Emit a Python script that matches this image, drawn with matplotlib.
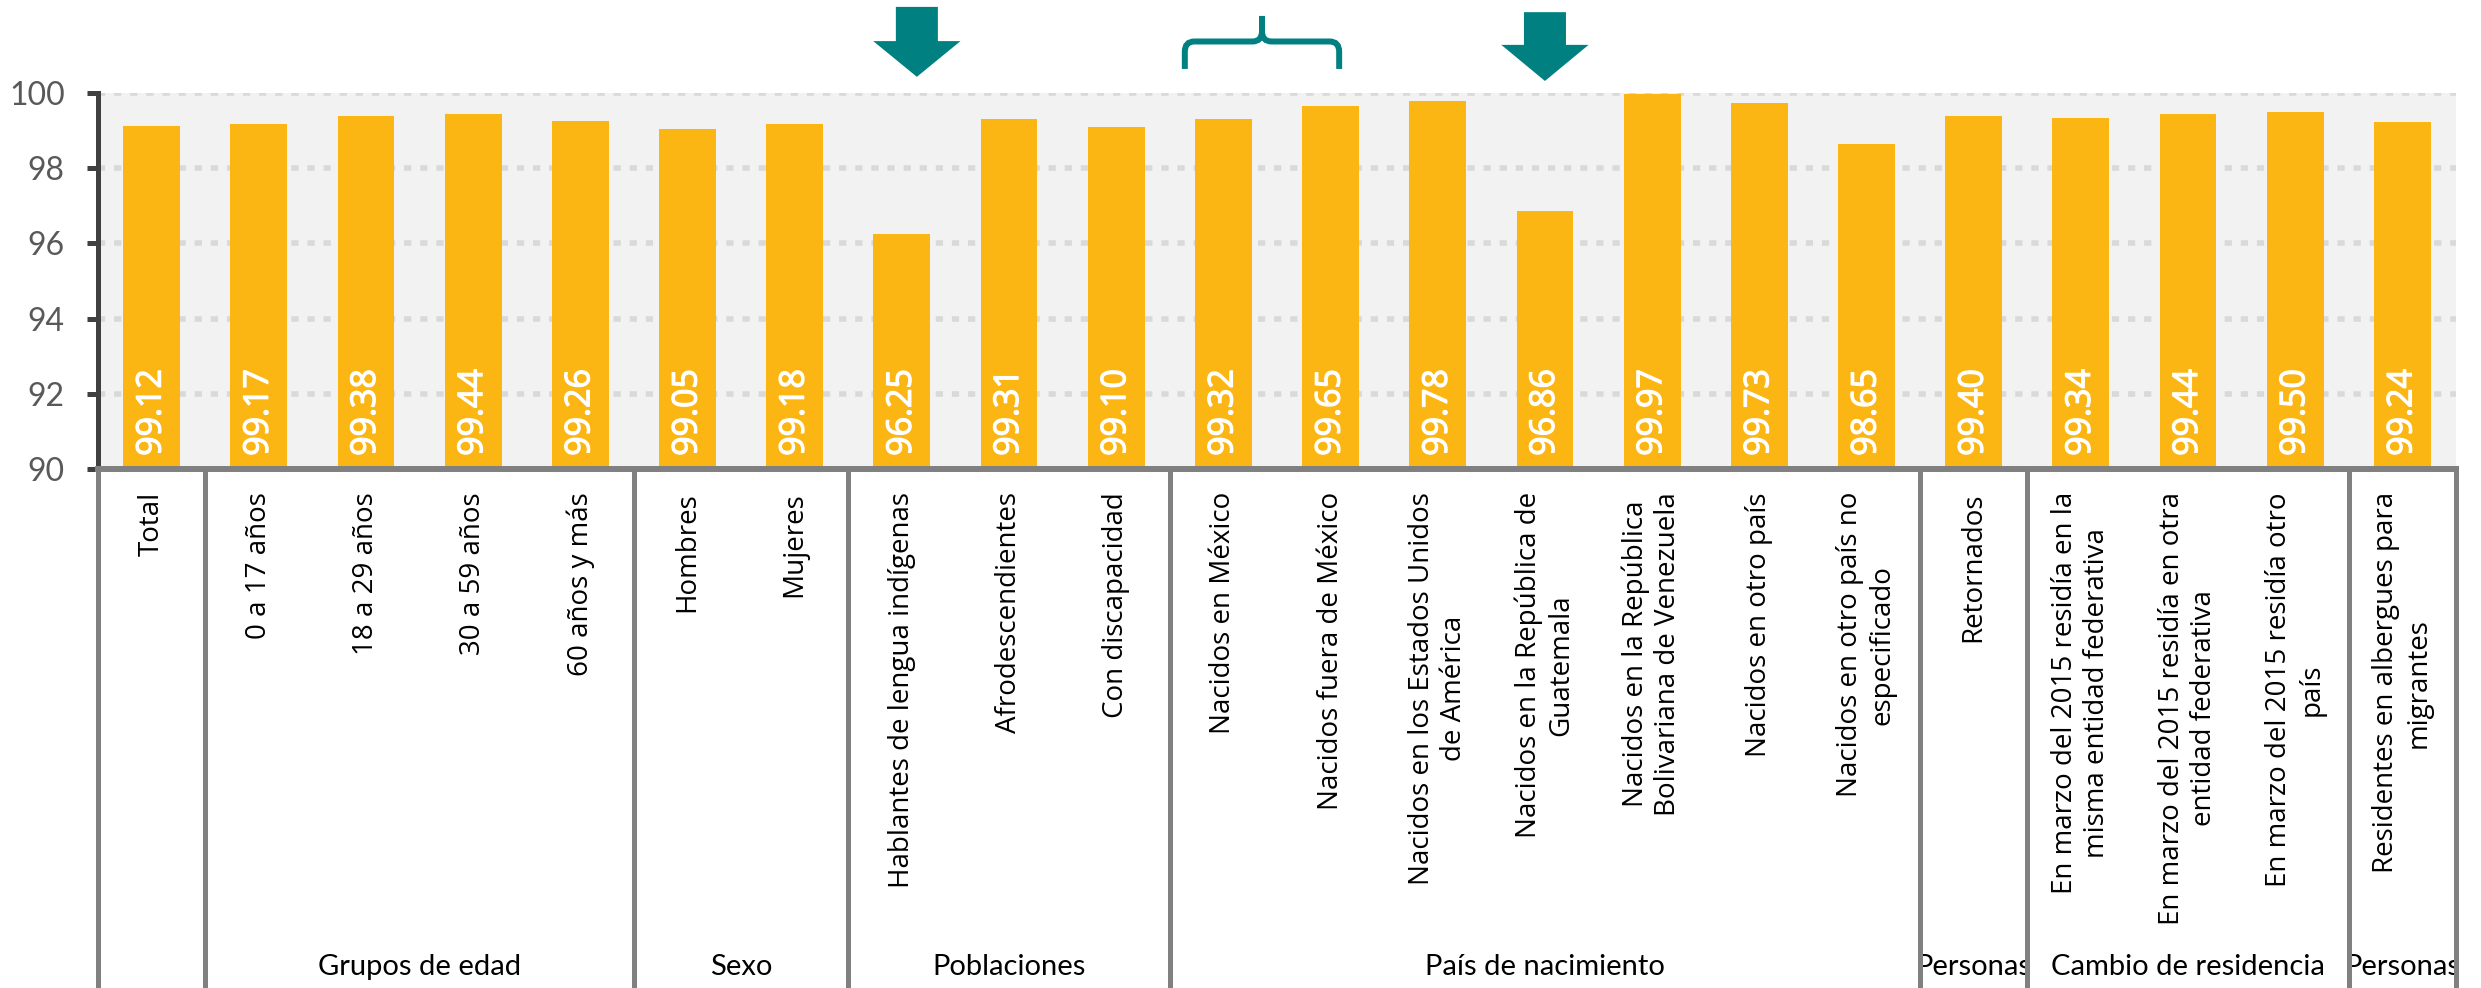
import matplotlib
matplotlib.use('Agg')
import matplotlib.pyplot as plt
from matplotlib.patches import Polygon, PathPatch
from matplotlib.path import Path
import matplotlib.transforms as mtransforms
import matplotlib.patheffects as pe
from matplotlib import font_manager

categories = [
    "Total",
    "0 a 17 años",
    "18 a 29 años",
    "30 a 59 años",
    "60 años y más",
    "Hombres",
    "Mujeres",
    "Hablantes de lengua indígenas",
    "Afrodescendientes",
    "Con discapacidad",
    "Nacidos en México",
    "Nacidos fuera de México",
    "Nacidos en los Estados Unidos\nde América",
    "Nacidos en la República de\nGuatemala",
    "Nacidos en la República\nBolivariana de Venezuela",
    "Nacidos en otro país",
    "Nacidos en otro país no\nespecificado",
    "Retornados",
    "En marzo del 2015 residía en la\nmisma entidad federativa",
    "En marzo del 2015 residía en otra\nentidad federativa",
    "En marzo del 2015 residía otro\npaís",
    "Residentes en albergues para\nmigrantes",
]
values = [99.12, 99.17, 99.38, 99.44, 99.26, 99.05, 99.18, 96.25, 99.31, 99.10,
          99.32, 99.65, 99.78, 96.86, 99.97, 99.73, 98.65, 99.40, 99.34, 99.44,
          99.50, 99.24]
group_names = ["Grupos de edad", "Sexo", "Poblaciones", "País de nacimiento",
               "Personas", "Cambio de residencia", "Personas"]
group_first = [1, 5, 7, 10, 17, 18, 21]
group_last = [4, 6, 9, 16, 17, 20, 21]
yticks = [90, 92, 94, 96, 98, 100]

installed = {f.name for f in font_manager.fontManager.ttflist}
SANS = 'Open Sans' if 'Open Sans' in installed else 'Noto Sans'
NARROW = 'Lato' if 'Lato' in installed else 'DejaVu Sans'

W, H = 2481, 988
fig = plt.figure(figsize=(W / 100, H / 100), dpi=100)
ax = fig.add_axes([98 / W, (H - 469) / H, (2456 - 98) / W, (469 - 93) / H])
ax.set_facecolor('#F2F2F2')

x = list(range(len(values)))
ax.bar(x, values, width=0.53, color='#FCB614', zorder=3)
ax.set_ylim(90, 100)
ax.set_xlim(-0.5, len(values) - 0.5)

for y in yticks[1:]:
    ax.axhline(y, color='#D9D9D9', lw=4.0, dashes=(1.3, 1.6), zorder=1)

for s in ['top', 'right']:
    ax.spines[s].set_visible(False)
ax.spines['left'].set_color('#404040')
ax.spines['left'].set_linewidth(3.6)
ax.spines['bottom'].set_color('#808080')
ax.spines['bottom'].set_linewidth(4.3)
ax.spines['bottom'].set_zorder(5)
ax.set_xticks([])
ax.set_yticks(yticks)
ax.tick_params(axis='y', direction='out', length=8, width=3.6, color='#404040',
               labelsize=23, labelcolor='#595959', pad=16)
for lab in ax.get_yticklabels():
    lab.set_family(NARROW)

# value labels
for i, v in enumerate(values):
    ax.text(i, 90.35, f"{v:.2f}", rotation=90, ha='center', va='bottom',
            color='white', fontsize=24.5, family=SANS, zorder=4,
            path_effects=[pe.withStroke(linewidth=0.9, foreground='white')])

trans = mtransforms.blended_transform_factory(ax.transData, fig.transFigure)
axis_frac = (H - 469) / H

# category labels
for i, c in enumerate(categories):
    ax.text(i, (H - 492) / H, c, rotation=90, ha='center', va='top',
            multialignment='center', fontsize=20, family=SANS,
            color='black', transform=trans, clip_on=False)

# separators
bounds = [-0.5] + [g - 0.5 for g in group_first] + [len(values) - 0.5]
for b in bounds:
    ax.plot([b, b], [0, axis_frac], transform=trans, color='#808080', lw=3.6,
            clip_on=False, solid_capstyle='butt', zorder=4)

# group labels
for name, a, b in zip(group_names, group_first, group_last):
    ax.text((a + b) / 2, (H - 975) / H, name, ha='center', va='baseline',
            fontsize=21, family=NARROW, color='black', transform=trans,
            clip_on=False)

# arrows
teal = '#008080'
arrow_geom = [(7.14, 102.29, 101.38, 100.43), (13.0, 102.15, 101.28, 100.32)]
sw, hw = 0.196, 0.407
for xc, top, head, tip in arrow_geom:
    pts = [(xc - sw, top), (xc + sw, top), (xc + sw, head), (xc + hw, head),
           (xc, tip), (xc - hw, head), (xc - sw, head)]
    ax.add_patch(Polygon(pts, closed=True, facecolor=teal, edgecolor='none',
                         clip_on=False, zorder=6))

# brace
x0, x1, xc = 9.64, 11.08, 10.36
yb, yh, yt = 100.64, 101.37, 102.05
rx, ry = 0.09, 0.27
verts = [(x0, yb), (x0, yh - ry), (x0, yh), (x0 + rx, yh), (xc - rx, yh),
         (xc, yh), (xc, yh + ry), (xc, yt),
         (x1, yb), (x1, yh - ry), (x1, yh), (x1 - rx, yh), (xc + rx, yh),
         (xc, yh), (xc, yh + ry)]
codes = [Path.MOVETO, Path.LINETO, Path.CURVE3, Path.CURVE3, Path.LINETO,
         Path.CURVE3, Path.CURVE3, Path.LINETO,
         Path.MOVETO, Path.LINETO, Path.CURVE3, Path.CURVE3, Path.LINETO,
         Path.CURVE3, Path.CURVE3]
ax.add_patch(PathPatch(Path(verts, codes), facecolor='none', edgecolor=teal,
                       lw=4.3, clip_on=False, zorder=6, capstyle='butt'))

fig.savefig('out.png', dpi=100)
